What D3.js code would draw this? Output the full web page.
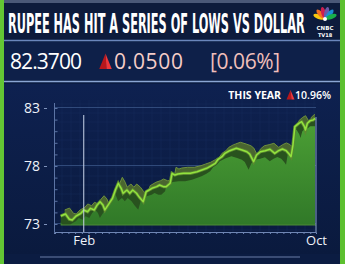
<!DOCTYPE html>
<html>
<head>
<meta charset="utf-8">
<script src="https://cdn.jsdelivr.net/npm/d3@7"></script>
<style>
  body { margin: 0; background: #0c1d44; }
  svg { display: block; }
</style>
</head>
<body>
<script>
// USD/INR closes
var dates = ["2022-01-08","2022-01-13","2022-01-17","2022-01-20","2022-01-24","2022-01-29",
  "2022-02-01","2022-02-05","2022-02-08","2022-02-12","2022-02-15","2022-02-18","2022-02-21",
  "2022-02-23","2022-02-27","2022-03-03","2022-03-06","2022-03-09","2022-03-12","2022-03-14",
  "2022-03-18","2022-03-21","2022-03-24","2022-03-28","2022-03-31","2022-04-04","2022-04-07",
  "2022-04-13","2022-04-18","2022-04-21","2022-04-25","2022-04-28","2022-05-02","2022-05-04",
  "2022-05-07","2022-05-10","2022-05-16","2022-05-23","2022-05-30","2022-06-04","2022-06-09",
  "2022-06-14","2022-06-18","2022-06-21","2022-06-25","2022-06-28","2022-07-03","2022-07-05",
  "2022-07-10","2022-07-16","2022-07-21","2022-07-24","2022-07-28","2022-07-31","2022-08-04",
  "2022-08-09","2022-08-14","2022-08-19","2022-08-23","2022-08-27","2022-08-31","2022-09-03",
  "2022-09-05","2022-09-07","2022-09-09","2022-09-13","2022-09-16","2022-09-19","2022-09-20",
  "2022-09-22","2022-09-25","2022-09-28","2022-09-30"];
var values = [73.69,73.86,73.41,73.34,73.69,73.92,
  74.21,74.06,74.35,74.21,74.64,74.92,74.64,
  74.21,74.72,75.22,75.93,76.51,76.08,75.65,
  75.93,75.65,75.93,75.65,75.30,74.92,75.78,
  76.08,76.22,76.36,76.22,76.22,76.51,77.37,
  77.22,77.31,77.37,77.37,77.51,77.66,77.80,
  78.03,78.23,78.58,78.80,79.09,79.32,79.38,
  79.53,79.38,79.23,79.03,78.37,78.95,79.23,
  79.32,79.44,79.09,79.32,79.47,79.32,79.03,
  78.80,79.81,81.39,81.68,81.82,81.39,81.10,
  81.68,81.91,81.97,82.11];

var yTicks = [73, 78, 83];
var xLabels = ["2022-02-01", "2022-10-01"];

var title = "RUPEE HAS HIT A SERIES OF LOWS VS DOLLAR";
var lastPrice = "82.3700";
var change = "0.0500";
var changePct = "[0.06%]";
var yearLabel = "THIS YEAR";
var yearChange = "10.96%";

var width = 345, height = 264;
var parseDate = d3.timeParse("%Y-%m-%d");
var data = dates.map(function(d, i) { return {date: parseDate(d), value: values[i]}; });

var svg = d3.select("body").append("svg")
  .attr("width", width)
  .attr("height", height);

var x = d3.scaleTime()
  .domain([parseDate("2022-01-01"), parseDate("2022-10-01")])
  .range([54, 316]);
var y = d3.scaleLinear()
  .domain([73, 83])
  .range([224, 108]);

var defs = svg.append("defs");
var bg = defs.append("linearGradient").attr("id", "bgGrad")
  .attr("x1", 0).attr("y1", 0).attr("x2", 0).attr("y2", 1);
bg.append("stop").attr("offset", "0%").attr("stop-color", "#0e2150");
bg.append("stop").attr("offset", "100%").attr("stop-color", "#0a1a3e");

var areaGrad = defs.append("linearGradient").attr("id", "areaGrad")
  .attr("gradientUnits", "userSpaceOnUse")
  .attr("x1", 0).attr("y1", 110).attr("x2", 0).attr("y2", 226);
areaGrad.append("stop").attr("offset", "0%").attr("stop-color", "#4ea336");
areaGrad.append("stop").attr("offset", "100%").attr("stop-color", "#307828");

// background
svg.append("rect").attr("width", width).attr("height", height).attr("fill", "#0b1c42");
svg.append("rect").attr("x", 0).attr("y", 84).attr("width", width).attr("height", 170).attr("fill", "url(#bgGrad)");
svg.append("rect").attr("x", 0).attr("y", 0).attr("width", width).attr("height", 3).attr("fill", "#4a5878");
svg.append("rect").attr("x", 0).attr("y", 3).attr("width", width).attr("height", 37).attr("fill", "#0d1b3c");
svg.append("rect").attr("x", 0).attr("y", 42).attr("width", width).attr("height", 38).attr("fill", "#0e2049");

// faint grid texture
var grid = svg.append("g").attr("stroke", "#17305f").attr("stroke-width", 0.6).attr("opacity", 0.7);
grid.selectAll("line.v").data(d3.range(62, 316, 9)).enter().append("line")
  .attr("x1", function(d) { return d; }).attr("x2", function(d) { return d; })
  .attr("y1", 100).attr("y2", 232);
grid.selectAll("line.h").data(d3.range(104, 232, 9)).enter().append("line")
  .attr("x1", 54).attr("x2", 316)
  .attr("y1", function(d) { return d; }).attr("y2", function(d) { return d; });

// separators
svg.append("line").attr("x1", 4).attr("x2", 340).attr("y1", 40.5).attr("y2", 40.5)
  .attr("stroke", "#6a86bc").attr("stroke-width", 1.5);
svg.append("line").attr("x1", 4).attr("x2", 340).attr("y1", 81.5).attr("y2", 81.5)
  .attr("stroke", "#8ba6d4").attr("stroke-width", 1.5);
svg.append("line").attr("x1", 40).attr("x2", 300).attr("y1", 257).attr("y2", 257)
  .attr("stroke", "#3a4c74").attr("stroke-width", 2);

// horizontal guides
svg.selectAll("line.guide").data(yTicks).enter().append("line")
  .attr("x1", 54).attr("x2", 316)
  .attr("y1", function(d) { return y(d) - 0.5; }).attr("y2", function(d) { return y(d) - 0.5; })
  .attr("stroke", "#3a5688").attr("stroke-width", 0.8);

// back face of the ribbon
var back = data.map(function(d) { return [x(d.date) + 4, y(d.value) - 6]; });
defs.append("clipPath").attr("id", "plotClip").append("rect")
  .attr("x", 54).attr("y", 90).attr("width", 261).attr("height", 140);
svg.append("path")
  .attr("clip-path", "url(#plotClip)")
  .attr("d", d3.area().x(function(p) { return p[0]; }).y0(224).y1(function(p) { return p[1]; })(back))
  .attr("fill", "#4a6530");
svg.append("path")
  .attr("clip-path", "url(#plotClip)")
  .attr("d", d3.line()(back))
  .attr("fill", "none").attr("stroke", "#6d8f3c").attr("stroke-width", 1);

// front face
var area = d3.area()
  .x(function(d) { return x(d.date); })
  .y0(y(73) + 1)
  .y1(function(d) { return y(d.value); });
defs.append("clipPath").attr("id", "areaClip").append("path").attr("d", area(data));

var front = svg.append("g").attr("clip-path", "url(#areaClip)");
front.append("rect").attr("x", 50).attr("y", 100).attr("width", 270).attr("height", 130).attr("fill", "#28521e");
var shade = data.map(function(d) { return [x(d.date) - 5, y(d.value) + 8]; });
shade.push([x(data[data.length - 1].date) + 6, y(data[data.length - 1].value) + 8]);
front.append("path")
  .attr("d", d3.area().x(function(p) { return p[0]; }).y0(240).y1(function(p) { return p[1]; })(shade))
  .attr("fill", "url(#areaGrad)");

svg.append("line")
  .attr("x1", x(data[0].date)).attr("x2", 316)
  .attr("y1", y(73) + 1).attr("y2", y(73) + 1)
  .attr("stroke", "#4d8a36").attr("stroke-width", 1);

// the line
var line = d3.line()
  .x(function(d) { return x(d.date); })
  .y(function(d) { return y(d.value); });
svg.append("path").attr("d", line(data))
  .attr("fill", "none").attr("stroke", "#5c8a30").attr("stroke-width", 3.2);
svg.append("path").attr("d", line(data))
  .attr("fill", "none").attr("stroke", "#93e33e").attr("stroke-width", 1.5)
  .attr("stroke-linejoin", "round");

// frame lines
svg.append("line").attr("x1", 54.5).attr("x2", 54.5).attr("y1", 103).attr("y2", 232)
  .attr("stroke", "#5c74a4").attr("stroke-width", 1);
svg.append("line").attr("x1", 316).attr("x2", 316).attr("y1", 117).attr("y2", 232)
  .attr("stroke", "#8aa0c8").attr("stroke-width", 1);
svg.append("line").attr("x1", x(parseDate(xLabels[0]))).attr("x2", x(parseDate(xLabels[0])))
  .attr("y1", 115).attr("y2", 232)
  .attr("stroke", "#c9d5ea").attr("stroke-width", 1);

// y axis
var yAxis = svg.append("g").attr("transform", "translate(47,0)")
  .call(d3.axisLeft(y).tickValues(yTicks).tickSize(3).tickPadding(4));
yAxis.select(".domain").remove();
yAxis.selectAll(".tick line").attr("stroke", "#7f93bb");
yAxis.selectAll("text").attr("fill", "#eef2fa")
  .style("font-family", "'Open Sans', 'DejaVu Sans', sans-serif").style("font-size", "14px");

var yMinor = svg.append("g").attr("transform", "translate(54.5,0)")
  .call(d3.axisRight(y).tickValues(d3.range(73, 84, 1)).tickSize(3).tickFormat(""));
yMinor.select(".domain").remove();
yMinor.selectAll(".tick line").attr("stroke", "#5c74a4");

// x axis
var xMinor = svg.append("g").attr("transform", "translate(0,232)")
  .call(d3.axisBottom(x).ticks(d3.timeWeek.every(1)).tickSize(2).tickFormat(""));
xMinor.select(".domain").attr("stroke", "#6f86b4");
xMinor.selectAll(".tick line").attr("stroke", "#6f86b4");

var xAxis = svg.append("g").attr("transform", "translate(0,232)")
  .call(d3.axisBottom(x).tickValues(xLabels.map(parseDate)).tickSize(0).tickPadding(4)
    .tickFormat(d3.timeFormat("%b")));
xAxis.select(".domain").remove();
xAxis.selectAll("text").attr("fill", "#eef2fa")
  .style("font-family", "'Open Sans', 'DejaVu Sans', sans-serif").style("font-size", "13px");

// side strips
svg.append("rect").attr("x", 0).attr("y", 0).attr("width", 4).attr("height", height).attr("fill", "#63c634");
svg.append("rect").attr("x", 340).attr("y", 0).attr("width", 5).attr("height", height).attr("fill", "#5cc02f");

// title row: squeeze the bold face horizontally to the banner width
var titleText = svg.append("text").attr("x", 0).attr("y", 0)
  .attr("fill", "#ffffff")
  .style("font-family", "'Liberation Sans Narrow', 'DejaVu Sans Condensed', Roboto, sans-serif")
  .style("font-weight", "bold").style("font-size", "27px")
  .text(title);
var titleW = titleText.node().getComputedTextLength();
titleText.attr("transform", "translate(8,33) scale(" + (297 / titleW) + ",1)");

// CNBC peacock
var plume = ["#f9c80e", "#f37021", "#cc1f4f", "#6a5aa8", "#1b8fd2", "#18b04a"];
var logo = svg.append("g").attr("transform", "translate(325,19)");
logo.selectAll("ellipse").data(plume).enter().append("ellipse")
  .attr("cx", 0).attr("cy", -6.5).attr("rx", 2.3).attr("ry", 5.8)
  .attr("fill", function(d) { return d; })
  .attr("transform", function(d, i) { return "rotate(" + (-70 + i * 28) + ")"; });
logo.append("circle").attr("r", 2).attr("cy", 0).attr("fill", "#ffffff");
svg.append("text").attr("x", 325).attr("y", 29.5).attr("text-anchor", "middle")
  .attr("fill", "#ffffff").style("font-family", "'DejaVu Sans', sans-serif")
  .style("font-weight", "bold").style("font-size", "5.5px").text("CNBC");
svg.append("text").attr("x", 325).attr("y", 37).attr("text-anchor", "middle")
  .attr("fill", "#ffffff").style("font-family", "'DejaVu Sans', sans-serif")
  .style("font-weight", "bold").style("font-size", "5px").text("TV18");

// price row
function upArrow(cx, top, bottom, w) {
  var g = svg.append("g");
  g.append("path").attr("d", "M" + cx + "," + top + "L" + (cx - w / 2) + "," + bottom + "L" + (cx + 1) + "," + bottom + "Z")
    .attr("fill", "#b8171c");
  g.append("path").attr("d", "M" + cx + "," + top + "L" + (cx + 1) + "," + bottom + "L" + (cx + w / 2) + "," + bottom + "Z")
    .attr("fill", "#f0373a");
}
var rowFont = "'Open Sans', 'DejaVu Sans', sans-serif";
svg.append("text").attr("x", 10).attr("y", 68.5).attr("fill", "#ffffff")
  .attr("textLength", 72).attr("lengthAdjust", "spacing")
  .style("font-family", rowFont).style("font-size", "21px").text(lastPrice);
upArrow(105.5, 53.5, 69, 12.5);
svg.append("text").attr("x", 114).attr("y", 68.5).attr("fill", "#f5cdc8")
  .attr("textLength", 69).attr("lengthAdjust", "spacing")
  .style("font-family", rowFont).style("font-size", "21px").text(change);
svg.append("text").attr("x", 210).attr("y", 68.5).attr("fill", "#f0bfba")
  .attr("textLength", 70).attr("lengthAdjust", "spacing")
  .style("font-family", rowFont).style("font-size", "21px").text(changePct);

// year change
svg.append("text").attr("x", 281).attr("y", 98.5).attr("text-anchor", "end").attr("fill", "#ffffff")
  .style("font-family", rowFont).style("font-weight", "bold").style("font-size", "10.5px")
  .text(yearLabel);
upArrow(290.5, 90, 99.5, 8);
svg.append("text").attr("x", 295).attr("y", 98.5).attr("fill", "#ffffff")
  .style("font-family", rowFont).style("font-weight", "600").style("font-size", "10.5px")
  .text(yearChange);
</script>
</body>
</html>
